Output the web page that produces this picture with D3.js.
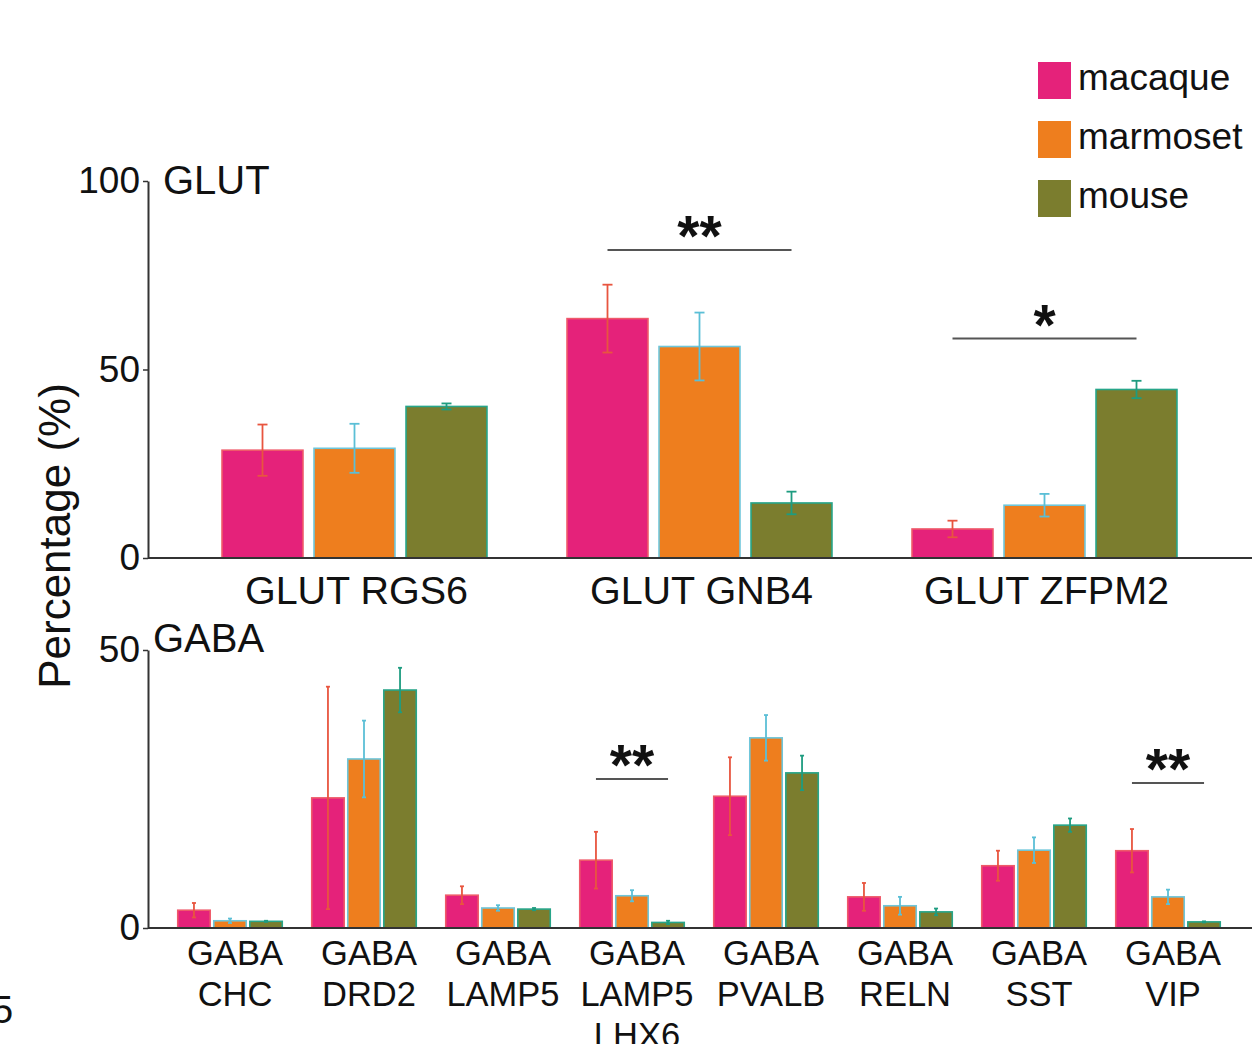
<!DOCTYPE html>
<html>
<head>
<meta charset="utf-8">
<script src="https://cdn.jsdelivr.net/npm/d3@7"></script>
<style>
  body { margin: 0; background: #fff; }
  svg text { font-family: "Liberation Sans", Arial, sans-serif; fill: #111; }
</style>
</head>
<body>
<script>
var species = ["macaque", "marmoset", "mouse"];
var speciesFill = ["#e5227a", "#ee7e1e", "#7b7d2e"];
var speciesEdge = ["#ef5a6a", "#6ec6da", "#27a589"];
var speciesErr = ["#e8553f", "#5bbfd6", "#1e9c80"];

// GLUT panel
var glutCats = ["GLUT RGS6", "GLUT GNB4", "GLUT ZFPM2"];
var glutMacaque = [28.6, 63.5, 7.7];
var glutMacaqueErr = [6.8, 9.0, 2.2];
var glutMarmoset = [29.1, 56.1, 14.0];
var glutMarmosetErr = [6.5, 9.0, 3.0];
var glutMouse = [40.2, 14.6, 44.7];
var glutMouseErr = [0.8, 3.0, 2.3];
var glutTicks = [0, 50, 100];
var glutSigCats = ["GLUT GNB4", "GLUT ZFPM2"];
var glutSigY = [81.7, 58.2];
var glutSigLabel = ["**", "*"];

// GABA panel
var gabaCats = ["GABA CHC", "GABA DRD2", "GABA LAMP5", "GABA LAMP5 LHX6", "GABA PVALB", "GABA RELN", "GABA SST", "GABA VIP"];
var gabaMacaque = [3.2, 23.4, 5.9, 12.2, 23.7, 5.6, 11.2, 13.9];
var gabaMacaqueErr = [1.3, 20.0, 1.6, 5.1, 7.0, 2.5, 2.7, 3.9];
var gabaMarmoset = [1.3, 30.4, 3.6, 5.8, 34.2, 4.0, 14.0, 5.6];
var gabaMarmosetErr = [0.4, 6.9, 0.5, 1.0, 4.1, 1.6, 2.3, 1.3];
var gabaMouse = [1.2, 42.8, 3.4, 1.0, 27.9, 2.9, 18.5, 1.1];
var gabaMouseErr = [0.1, 4.0, 0.2, 0.3, 3.1, 0.6, 1.2, 0.1];
var gabaTicks = [0, 50];
var gabaSigCats = ["GABA LAMP5 LHX6", "GABA VIP"];
var gabaSigY = [26.8, 26.1];
var gabaSigLabel = ["**", "**"];

var W = 1259, H = 1044;
var svg = d3.select("body").append("svg")
    .attr("width", W)
    .attr("height", H);

function panel(cfg){
    var x0 = d3.scaleBand().domain(cfg.cats).range(cfg.xr)
        .paddingInner(cfg.padIn).paddingOuter(cfg.padIn/2);
    var x1 = d3.scaleBand().domain(species).range([0, x0.bandwidth()])
        .paddingInner(cfg.subPad);
    var y = d3.scaleLinear().domain(cfg.ydom).range(cfg.yr);

    var rows = [];
    cfg.cats.forEach(function(c, i){
        species.forEach(function(s, j){
            rows.push({cat: c, sp: s, j: j, v: cfg.vals[j][i], e: cfg.errs[j][i]});
        });
    });

    var g = svg.append("g");

    g.selectAll("rect.bar")
        .data(rows)
        .enter().append("rect")
        .attr("class", "bar")
        .attr("x", function(d){ return x0(d.cat) + x1(d.sp); })
        .attr("width", x1.bandwidth())
        .attr("y", function(d){ return y(d.v); })
        .attr("height", function(d){ return y(0) - y(d.v); })
        .attr("fill", function(d){ return speciesFill[d.j]; })
        .attr("stroke", function(d){ return speciesEdge[d.j]; })
        .attr("stroke-width", 1.6);

    var eb = g.selectAll("g.err")
        .data(rows)
        .enter().append("g")
        .attr("class", "err")
        .attr("stroke", function(d){ return speciesErr[d.j]; })
        .attr("stroke-width", 1.8);
    function cx(d){ return x0(d.cat) + x1(d.sp) + x1.bandwidth()/2; }
    eb.append("line")
        .attr("x1", cx).attr("x2", cx)
        .attr("y1", function(d){ return y(d.v + d.e); })
        .attr("y2", function(d){ return y(Math.max(0, d.v - d.e)); });
    eb.append("line")
        .attr("x1", function(d){ return cx(d) - cfg.cap; })
        .attr("x2", function(d){ return cx(d) + cfg.cap; })
        .attr("y1", function(d){ return y(d.v + d.e); })
        .attr("y2", function(d){ return y(d.v + d.e); });
    eb.append("line")
        .attr("x1", function(d){ return cx(d) - cfg.cap; })
        .attr("x2", function(d){ return cx(d) + cfg.cap; })
        .attr("y1", function(d){ return y(Math.max(0, d.v - d.e)); })
        .attr("y2", function(d){ return y(Math.max(0, d.v - d.e)); });

    // y axis
    var ax = g.append("g")
        .attr("transform", "translate(" + cfg.axisX + ",0)")
        .call(d3.axisLeft(y).tickValues(cfg.ticks).tickSize(5).tickSizeOuter(0).tickPadding(3));
    ax.select(".domain").attr("stroke", "#333").attr("stroke-width", 2);
    ax.selectAll(".tick line").attr("stroke", "#333").attr("stroke-width", 1.5);
    ax.selectAll(".tick text")
        .attr("font-size", cfg.tickFont)
        .attr("font-family", "Liberation Sans, Arial, sans-serif")
        .attr("fill", "#111");

    // baseline
    g.append("line")
        .attr("x1", cfg.axisX).attr("x2", cfg.lineEnd)
        .attr("y1", y(0)).attr("y2", y(0))
        .attr("stroke", "#333").attr("stroke-width", 2);

    // panel title
    g.append("text")
        .attr("x", cfg.titleX).attr("y", cfg.titleY)
        .attr("font-size", cfg.titleFont)
        .text(cfg.title);

    // category labels
    var lab = g.selectAll("text.cat")
        .data(cfg.cats)
        .enter().append("text")
        .attr("class", "cat")
        .attr("text-anchor", "middle")
        .attr("font-size", cfg.catFont)
        .attr("x", function(d){ return x0(d) + x0.bandwidth()/2 + cfg.catShift; })
        .attr("y", cfg.catY);
    lab.each(function(d){
        var parts = cfg.wrap ? d.split(" ") : [d];
        var t = d3.select(this);
        parts.forEach(function(p, k){
            t.append("tspan")
                .attr("x", x0(d) + x0.bandwidth()/2 + cfg.catShift)
                .attr("dy", k === 0 ? 0 : cfg.lineGap)
                .text(p);
        });
    });

    // significance
    cfg.sigCats.forEach(function(c, i){
        var xa = x0(c) + x1("macaque") + x1.bandwidth()/2;
        var xb = x0(c) + x1("mouse") + x1.bandwidth()/2;
        var yy = y(cfg.sigY[i]);
        g.append("line")
            .attr("x1", xa).attr("x2", xb)
            .attr("y1", yy).attr("y2", yy)
            .attr("stroke", "#555").attr("stroke-width", 2);
        g.append("text")
            .attr("x", (xa + xb)/2)
            .attr("y", yy + 6)
            .attr("text-anchor", "middle")
            .attr("font-size", 57)
            .attr("font-weight", "bold")
            .text(cfg.sigLabel[i]);
    });
}

panel({
    cats: glutCats,
    vals: [glutMacaque, glutMarmoset, glutMouse],
    errs: [glutMacaqueErr, glutMarmosetErr, glutMouseErr],
    xr: [182, 1217], padIn: 0.232, subPad: 0.12,
    ydom: [0, 100], yr: [558, 181], ticks: glutTicks,
    axisX: 148, lineEnd: 1252, cap: 5, tickFont: 37,
    title: "GLUT", titleX: 163, titleY: 194, titleFont: 40,
    catY: 604, catFont: 39.5, catShift: 2, wrap: false, lineGap: 0,
    sigCats: glutSigCats, sigY: glutSigY, sigLabel: glutSigLabel
});

panel({
    cats: gabaCats,
    vals: [gabaMacaque, gabaMarmoset, gabaMouse],
    errs: [gabaMacaqueErr, gabaMarmosetErr, gabaMouseErr],
    xr: [163, 1235], padIn: 0.22, subPad: 0.1,
    ydom: [0, 50], yr: [928, 650], ticks: gabaTicks,
    axisX: 148, lineEnd: 1252, cap: 2, tickFont: 37,
    title: "GABA", titleX: 153, titleY: 652, titleFont: 40,
    catY: 965, catFont: 34.5, catShift: 5, wrap: true, lineGap: 41,
    sigCats: gabaSigCats, sigY: gabaSigY, sigLabel: gabaSigLabel
});

// shared y title
svg.append("text")
    .attr("transform", "translate(70,536) rotate(-90)")
    .attr("text-anchor", "middle")
    .attr("font-size", 44)
    .text("Percentage (%)");

// legend
var leg = svg.selectAll("g.leg")
    .data(species)
    .enter().append("g")
    .attr("class", "leg")
    .attr("transform", function(d, i){ return "translate(1038," + (62 + i*59) + ")"; });
leg.append("rect")
    .attr("width", 33).attr("height", 37)
    .attr("fill", function(d, i){ return speciesFill[i]; });
leg.append("text")
    .attr("x", 40).attr("y", 28)
    .attr("font-size", 37)
    .text(function(d){ return d; });

// cropped panel letter from neighbouring figure
svg.append("text")
    .attr("x", -8).attr("y", 1023)
    .attr("font-size", 38)
    .text("5");
</script>
</body>
</html>
